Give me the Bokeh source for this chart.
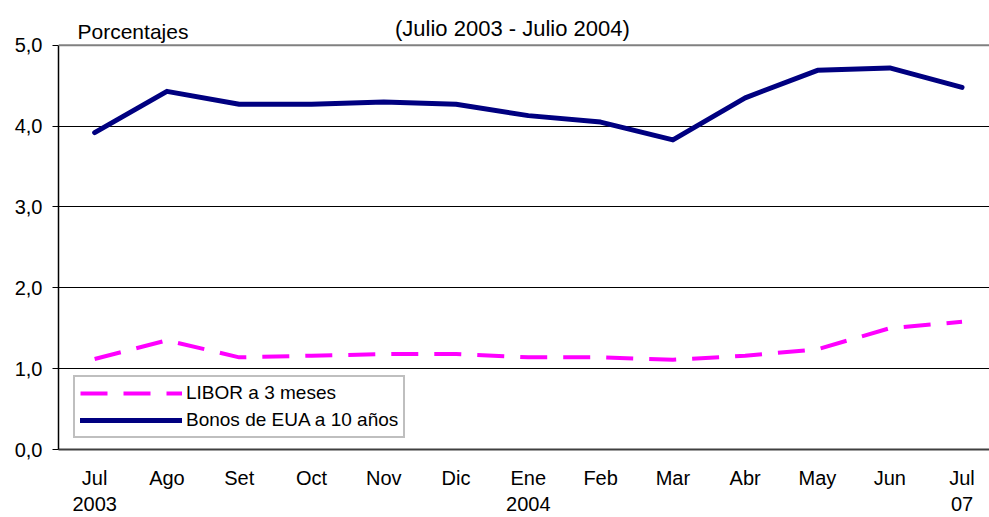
from bokeh.plotting import figure
from bokeh.models import Range1d, FixedTicker, Span, Label, Legend, LegendItem
from bokeh.embed import file_html
from bokeh.resources import INLINE

months = ["Jul\n2003", "Ago", "Set", "Oct", "Nov", "Dic", "Ene\n2004", "Feb", "Mar", "Abr", "May", "Jun", "Jul\n07"]
libor = [1.12, 1.35, 1.14, 1.16, 1.18, 1.18, 1.14, 1.14, 1.11, 1.16, 1.24, 1.50, 1.58]
bonos = [3.92, 4.43, 4.27, 4.27, 4.30, 4.27, 4.13, 4.05, 3.83, 4.35, 4.69, 4.72, 4.48]
y_ticks = [0, 1, 2, 3, 4, 5]
y_labels = ["0,0", "1,0", "2,0", "3,0", "4,0", "5,0"]

xs = list(range(len(months)))
FONT = "Liberation Sans"

p = figure(width=989, height=517, output_backend="svg", toolbar_location=None,
           x_range=Range1d(-0.5, 12.38), y_range=Range1d(0, 5.554),
           min_border_left=58, min_border_top=0, min_border_bottom=66, min_border_right=0)
p.outline_line_color = None
p.background_fill_color = "white"
p.border_fill_color = "white"

# axes
p.xaxis.ticker = FixedTicker(ticks=xs)
p.xaxis.major_label_overrides = {i: m for i, m in enumerate(months)}
p.xaxis.major_tick_line_color = None
p.xaxis.minor_tick_line_color = None
p.xaxis.axis_line_color = "#404040"
p.xaxis.axis_line_width = 2
p.xaxis.major_label_text_font = FONT
p.xaxis.major_label_text_font_size = "20px"
p.xaxis.major_label_text_color = "black"
p.xaxis.major_label_standoff = 11

p.yaxis.ticker = FixedTicker(ticks=y_ticks)
p.yaxis.bounds = (0, 5)
p.yaxis.major_label_overrides = {t: l for t, l in zip(y_ticks, y_labels)}
p.yaxis.minor_tick_line_color = None
p.yaxis.major_tick_in = 0
p.yaxis.major_tick_out = 6
p.yaxis.major_tick_line_color = "black"
p.yaxis.axis_line_color = "black"
p.yaxis.axis_line_width = 1.5
p.yaxis.major_label_text_font = FONT
p.yaxis.major_label_text_font_size = "20px"
p.yaxis.major_label_text_color = "black"
p.yaxis.major_label_standoff = 10

p.xgrid.grid_line_color = None
p.ygrid.ticker = FixedTicker(ticks=[1, 2, 3, 4])
p.ygrid.grid_line_color = "black"
p.ygrid.grid_line_width = 1
p.add_layout(Span(location=5, dimension="width", line_color="#808080", line_width=2))

r1 = p.line(xs, libor, line_color="#FF00FF", line_width=4, line_dash="27 16")
r2 = p.line(xs, bonos, line_color="#000080", line_width=5, line_cap="round", line_join="round")

legend = Legend(items=[LegendItem(label="LIBOR a 3 meses", renderers=[r1]),
                       LegendItem(label="Bonos de EUA a 10 años", renderers=[r2])],
                location=(15, 11), orientation="vertical")
legend.label_text_font = FONT
legend.label_text_font_size = "19px"
legend.label_text_color = "black"
legend.glyph_width = 102
legend.glyph_height = 22
legend.label_height = 22
legend.spacing = 5
legend.padding = 5
legend.margin = 0
legend.label_standoff = 4
legend.border_line_color = "#808080"
legend.border_line_width = 2
legend.background_fill_alpha = 1
p.add_layout(legend, "center")

p.add_layout(Label(x=-0.237, y=5.17, text="Porcentajes", text_font=FONT, text_font_size="21px",
                   text_color="black", text_baseline="alphabetic", text_align="left"))
p.add_layout(Label(x=5.78, y=5.21, text="(Julio 2003 - Julio 2004)", text_font=FONT,
                   text_font_size="22px", text_color="black", text_baseline="alphabetic",
                   text_align="center"))

open("out.html", "w").write(file_html(p, INLINE))
